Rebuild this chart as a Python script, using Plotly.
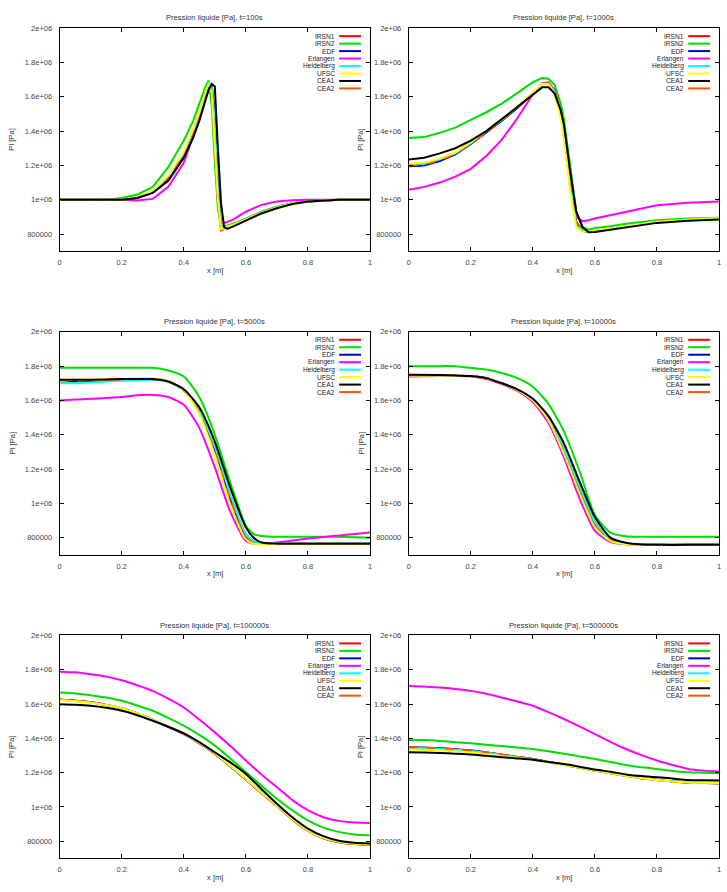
import plotly.graph_objects as go

# ---------------- data ----------------
names = ["IRSN1", "IRSN2", "EDF", "Erlangen", "Heidelberg", "UFSC", "CEA1", "CEA2"]
colors = ["#ff0000", "#00dd00", "#0000cc", "#ff00ff", "#00ffff", "#ffff00", "#000000", "#ff5500"]
titles = ["Pression liquide [Pa], t=100s", "Pression liquide [Pa], t=1000s",
          "Pression liquide [Pa], t=5000s", "Pression liquide [Pa], t=10000s",
          "Pression liquide [Pa], t=100000s", "Pression liquide [Pa], t=500000s"]
y_tickvals = [800000, 1000000, 1200000, 1400000, 1600000, 1800000, 2000000]
y_ticktext = ["800000", "1e+06", "1.2e+06", "1.4e+06", "1.6e+06", "1.8e+06", "2e+06"]
x_tickvals = [0, 0.2, 0.4, 0.6, 0.8, 1]
x_ticktext = ["0", "0.2", "0.4", "0.6", "0.8", "1"]

# t = 100 s  (values in 1e6 Pa)
x_t100 = [0, 0.1, 0.15, 0.2, 0.25, 0.3, 0.35, 0.4, 0.43, 0.45, 0.47, 0.48, 0.49, 0.5, 0.51, 0.52, 0.53, 0.54, 0.56, 0.6, 0.65, 0.7, 0.75, 0.8, 0.9, 1.0]
t100 = {
    "IRSN1":      [1.0, 1.0, 1.0, 1.0, 1.012, 1.045, 1.13, 1.27, 1.40, 1.50, 1.62, 1.675, 1.63, 1.32, 1.0, 0.825, 0.835, 0.845, 0.855, 0.885, 0.925, 0.955, 0.98, 0.99, 1.0, 1.0],
    "IRSN2":      [1.0, 1.0, 1.0, 1.01, 1.03, 1.075, 1.19, 1.345, 1.46, 1.56, 1.66, 1.695, 1.55, 1.22, 0.95, 0.84, 0.845, 0.85, 0.86, 0.89, 0.93, 0.96, 0.98, 0.99, 1.0, 1.0],
    "EDF":        [1.0, 1.0, 1.0, 1.0, 1.01, 1.045, 1.125, 1.265, 1.39, 1.49, 1.62, 1.675, 1.67, 1.5, 1.1, 0.85, 0.84, 0.845, 0.855, 0.885, 0.925, 0.955, 0.98, 0.99, 1.0, 1.0],
    "Erlangen":   [1.0, 1.0, 1.0, 1.0, 0.995, 1.005, 1.075, 1.215, 1.37, 1.48, 1.62, 1.68, 1.65, 1.35, 1.0, 0.86, 0.865, 0.87, 0.885, 0.93, 0.97, 0.99, 0.997, 1.0, 1.0, 1.0],
    "Heidelberg": [1.0, 1.0, 1.0, 1.0, 1.012, 1.048, 1.13, 1.27, 1.40, 1.50, 1.625, 1.68, 1.66, 1.45, 1.05, 0.845, 0.84, 0.845, 0.855, 0.885, 0.925, 0.955, 0.98, 0.99, 1.0, 1.0],
    "UFSC":       [1.0, 1.0, 1.0, 1.0, 1.015, 1.05, 1.14, 1.28, 1.41, 1.51, 1.63, 1.68, 1.62, 1.3, 1.0, 0.83, 0.835, 0.845, 0.855, 0.885, 0.925, 0.955, 0.98, 0.99, 1.0, 1.0],
    "CEA1":       [1.0, 1.0, 1.0, 1.0, 1.01, 1.04, 1.11, 1.245, 1.36, 1.46, 1.58, 1.64, 1.675, 1.66, 1.3, 0.98, 0.84, 0.83, 0.845, 0.88, 0.92, 0.95, 0.975, 0.99, 1.0, 1.0],
    "CEA2":       [1.0, 1.0, 1.0, 1.0, 1.012, 1.045, 1.13, 1.27, 1.40, 1.50, 1.62, 1.675, 1.63, 1.3, 0.98, 0.82, 0.83, 0.845, 0.855, 0.885, 0.925, 0.955, 0.98, 0.99, 1.0, 1.0],
}

# t = 1000 s
x_t1000 = [0, 0.05, 0.1, 0.15, 0.2, 0.25, 0.3, 0.35, 0.4, 0.43, 0.45, 0.47, 0.49, 0.5, 0.52, 0.54, 0.56, 0.58, 0.6, 0.65, 0.7, 0.8, 0.9, 1.0]
t1000 = {
    "IRSN1":      [1.20, 1.205, 1.23, 1.268, 1.328, 1.392, 1.462, 1.537, 1.62, 1.675, 1.68, 1.635, 1.49, 1.39, 1.08, 0.86, 0.818, 0.812, 0.815, 0.83, 0.846, 0.87, 0.883, 0.89],
    "IRSN2":      [1.36, 1.365, 1.39, 1.42, 1.465, 1.51, 1.56, 1.62, 1.685, 1.71, 1.705, 1.67, 1.56, 1.47, 1.2, 0.93, 0.84, 0.825, 0.835, 0.845, 0.86, 0.88, 0.89, 0.895],
    "EDF":        [1.195, 1.20, 1.225, 1.265, 1.325, 1.39, 1.46, 1.535, 1.62, 1.675, 1.68, 1.635, 1.50, 1.40, 1.10, 0.87, 0.82, 0.812, 0.815, 0.83, 0.845, 0.87, 0.882, 0.89],
    "Erlangen":   [1.058, 1.075, 1.10, 1.135, 1.18, 1.255, 1.35, 1.475, 1.615, 1.68, 1.685, 1.64, 1.50, 1.40, 1.12, 0.90, 0.875, 0.88, 0.89, 0.91, 0.93, 0.968, 0.982, 0.99],
    "Heidelberg": [1.205, 1.21, 1.235, 1.27, 1.33, 1.395, 1.465, 1.54, 1.62, 1.675, 1.68, 1.63, 1.49, 1.39, 1.09, 0.86, 0.818, 0.815, 0.818, 0.832, 0.848, 0.872, 0.885, 0.895],
    "UFSC":       [1.21, 1.215, 1.24, 1.275, 1.335, 1.40, 1.47, 1.545, 1.625, 1.675, 1.675, 1.62, 1.47, 1.36, 1.05, 0.84, 0.815, 0.815, 0.82, 0.832, 0.848, 0.872, 0.885, 0.892],
    "CEA1":       [1.235, 1.245, 1.27, 1.30, 1.345, 1.40, 1.47, 1.54, 1.615, 1.655, 1.655, 1.62, 1.52, 1.44, 1.17, 0.93, 0.84, 0.81, 0.812, 0.825, 0.84, 0.865, 0.878, 0.885],
    "CEA2":       [1.20, 1.205, 1.23, 1.268, 1.328, 1.392, 1.462, 1.537, 1.62, 1.675, 1.68, 1.635, 1.49, 1.39, 1.08, 0.86, 0.818, 0.812, 0.815, 0.83, 0.846, 0.87, 0.883, 0.89],
}

# t = 5000 s
x_t5000 = [0, 0.05, 0.1, 0.2, 0.25, 0.3, 0.35, 0.4, 0.45, 0.5, 0.55, 0.6, 0.625, 0.65, 0.7, 0.8, 0.9, 1.0]
t5000 = {
    "IRSN1":      [1.715, 1.715, 1.718, 1.722, 1.725, 1.725, 1.712, 1.66, 1.53, 1.30, 1.02, 0.80, 0.77, 0.765, 0.765, 0.765, 0.765, 0.765],
    "IRSN2":      [1.79, 1.79, 1.79, 1.79, 1.79, 1.79, 1.775, 1.74, 1.62, 1.40, 1.12, 0.87, 0.82, 0.81, 0.805, 0.805, 0.805, 0.80],
    "EDF":        [1.71, 1.71, 1.71, 1.72, 1.72, 1.722, 1.71, 1.66, 1.54, 1.32, 1.04, 0.82, 0.78, 0.766, 0.765, 0.765, 0.765, 0.765],
    "Erlangen":   [1.60, 1.605, 1.61, 1.62, 1.63, 1.632, 1.62, 1.575, 1.44, 1.21, 0.95, 0.78, 0.765, 0.765, 0.772, 0.795, 0.812, 0.83],
    "Heidelberg": [1.70, 1.70, 1.705, 1.715, 1.718, 1.72, 1.708, 1.66, 1.54, 1.33, 1.05, 0.82, 0.78, 0.766, 0.765, 0.765, 0.765, 0.765],
    "UFSC":       [1.715, 1.72, 1.72, 1.725, 1.73, 1.73, 1.715, 1.66, 1.52, 1.28, 0.99, 0.79, 0.765, 0.762, 0.762, 0.762, 0.762, 0.762],
    "CEA1":       [1.72, 1.72, 1.72, 1.725, 1.725, 1.725, 1.71, 1.665, 1.56, 1.36, 1.09, 0.86, 0.80, 0.772, 0.765, 0.765, 0.765, 0.765],
    "CEA2":       [1.715, 1.715, 1.718, 1.722, 1.725, 1.725, 1.712, 1.66, 1.53, 1.30, 1.02, 0.80, 0.77, 0.765, 0.765, 0.765, 0.765, 0.765],
}

# t = 10000 s
x_t10000 = [0, 0.1, 0.15, 0.2, 0.25, 0.3, 0.35, 0.4, 0.45, 0.5, 0.55, 0.6, 0.65, 0.7, 0.75, 0.8, 0.9, 1.0]
t10000 = {
    "IRSN1":      [1.745, 1.745, 1.744, 1.742, 1.73, 1.70, 1.66, 1.60, 1.49, 1.30, 1.07, 0.87, 0.785, 0.763, 0.758, 0.758, 0.758, 0.758],
    "IRSN2":      [1.80, 1.80, 1.80, 1.79, 1.78, 1.76, 1.73, 1.68, 1.58, 1.42, 1.19, 0.93, 0.83, 0.808, 0.805, 0.805, 0.805, 0.805],
    "EDF":        [1.745, 1.745, 1.744, 1.742, 1.73, 1.70, 1.66, 1.605, 1.50, 1.32, 1.10, 0.89, 0.79, 0.765, 0.76, 0.758, 0.758, 0.758],
    "Erlangen":   [1.74, 1.742, 1.742, 1.74, 1.725, 1.695, 1.655, 1.59, 1.47, 1.27, 1.03, 0.84, 0.775, 0.762, 0.76, 0.76, 0.76, 0.76],
    "Heidelberg": [1.745, 1.745, 1.744, 1.742, 1.73, 1.70, 1.66, 1.605, 1.50, 1.32, 1.10, 0.89, 0.79, 0.765, 0.76, 0.758, 0.758, 0.758],
    "UFSC":       [1.745, 1.745, 1.744, 1.742, 1.73, 1.70, 1.66, 1.60, 1.485, 1.29, 1.06, 0.86, 0.78, 0.762, 0.758, 0.758, 0.758, 0.758],
    "CEA1":       [1.75, 1.748, 1.745, 1.742, 1.73, 1.70, 1.665, 1.61, 1.51, 1.35, 1.13, 0.92, 0.80, 0.77, 0.76, 0.758, 0.758, 0.758],
    "CEA2":       [1.745, 1.745, 1.744, 1.742, 1.73, 1.70, 1.66, 1.60, 1.49, 1.30, 1.07, 0.87, 0.785, 0.763, 0.758, 0.758, 0.758, 0.758],
}

# t = 100000 s
x_t100000 = [0, 0.05, 0.1, 0.15, 0.2, 0.25, 0.3, 0.35, 0.4, 0.45, 0.5, 0.55, 0.6, 0.65, 0.7, 0.75, 0.8, 0.85, 0.9, 0.95, 1.0]
t100000 = {
    "IRSN1":      [1.625, 1.62, 1.61, 1.595, 1.576, 1.545, 1.508, 1.468, 1.426, 1.372, 1.31, 1.237, 1.161, 1.082, 1.006, 0.928, 0.862, 0.818, 0.795, 0.784, 0.78],
    "IRSN2":      [1.667, 1.662, 1.652, 1.638, 1.619, 1.592, 1.561, 1.52, 1.474, 1.42, 1.358, 1.283, 1.203, 1.125, 1.048, 0.98, 0.922, 0.88, 0.855, 0.84, 0.835],
    "EDF":        [1.625, 1.62, 1.61, 1.595, 1.576, 1.545, 1.508, 1.468, 1.427, 1.373, 1.311, 1.238, 1.162, 1.083, 1.007, 0.929, 0.863, 0.819, 0.796, 0.785, 0.781],
    "Erlangen":   [1.789, 1.785, 1.774, 1.76, 1.739, 1.71, 1.677, 1.632, 1.58, 1.51, 1.435, 1.355, 1.271, 1.19, 1.116, 1.04, 0.981, 0.94, 0.919, 0.91, 0.907],
    "Heidelberg": [1.623, 1.618, 1.609, 1.594, 1.576, 1.545, 1.508, 1.469, 1.428, 1.374, 1.312, 1.239, 1.163, 1.084, 1.008, 0.93, 0.864, 0.82, 0.797, 0.785, 0.781],
    "UFSC":       [1.622, 1.617, 1.608, 1.594, 1.576, 1.545, 1.508, 1.47, 1.429, 1.375, 1.313, 1.24, 1.164, 1.085, 1.009, 0.93, 0.864, 0.82, 0.797, 0.785, 0.781],
    "CEA1":       [1.599, 1.596, 1.59, 1.578, 1.561, 1.535, 1.503, 1.468, 1.429, 1.378, 1.319, 1.26, 1.193, 1.105, 1.019, 0.94, 0.874, 0.83, 0.803, 0.792, 0.787],
    "CEA2":       [1.625, 1.62, 1.61, 1.595, 1.576, 1.545, 1.508, 1.467, 1.425, 1.371, 1.309, 1.236, 1.16, 1.081, 1.005, 0.927, 0.861, 0.817, 0.794, 0.783, 0.779],
}

# t = 500000 s
x_t500000 = [0, 0.05, 0.1, 0.15, 0.2, 0.25, 0.3, 0.35, 0.4, 0.45, 0.5, 0.55, 0.6, 0.65, 0.7, 0.75, 0.8, 0.85, 0.9, 0.95, 1.0]
t500000 = {
    "IRSN1":      [1.348, 1.346, 1.342, 1.336, 1.329, 1.318, 1.305, 1.292, 1.28, 1.263, 1.246, 1.23, 1.213, 1.197, 1.182, 1.168, 1.158, 1.148, 1.142, 1.14, 1.139],
    "IRSN2":      [1.391, 1.39, 1.385, 1.378, 1.371, 1.363, 1.355, 1.347, 1.338, 1.325, 1.31, 1.295, 1.28, 1.262, 1.245, 1.232, 1.222, 1.21, 1.203, 1.2, 1.197],
    "EDF":        [1.348, 1.346, 1.342, 1.336, 1.329, 1.318, 1.305, 1.292, 1.28, 1.263, 1.246, 1.23, 1.213, 1.197, 1.182, 1.168, 1.158, 1.148, 1.142, 1.14, 1.139],
    "Erlangen":   [1.706, 1.703, 1.696, 1.688, 1.677, 1.66, 1.638, 1.615, 1.59, 1.553, 1.513, 1.47, 1.425, 1.38, 1.338, 1.302, 1.271, 1.245, 1.222, 1.212, 1.207],
    "Heidelberg": [1.345, 1.343, 1.34, 1.334, 1.327, 1.317, 1.304, 1.291, 1.279, 1.262, 1.246, 1.23, 1.213, 1.197, 1.182, 1.168, 1.158, 1.149, 1.143, 1.141, 1.14],
    "UFSC":       [1.335, 1.334, 1.331, 1.325, 1.318, 1.308, 1.297, 1.287, 1.276, 1.26, 1.245, 1.23, 1.213, 1.197, 1.182, 1.169, 1.158, 1.149, 1.143, 1.141, 1.14],
    "CEA1":       [1.319, 1.318, 1.315, 1.311, 1.306, 1.298, 1.29, 1.283, 1.275, 1.262, 1.25, 1.235, 1.218, 1.205, 1.19, 1.18, 1.174, 1.166, 1.158, 1.156, 1.155],
    "CEA2":       [1.348, 1.346, 1.342, 1.336, 1.329, 1.318, 1.305, 1.292, 1.28, 1.263, 1.246, 1.23, 1.213, 1.197, 1.182, 1.168, 1.158, 1.148, 1.142, 1.14, 1.139],
}

panels = [(x_t100, t100), (x_t1000, t1000), (x_t5000, t5000),
          (x_t10000, t10000), (x_t100000, t100000), (x_t500000, t500000)]

# ---------------- layout geometry (pixels) ----------------
W, H = 727, 892
col_px = [(58, 370), (409, 721)]
row_px = [(24.3, 248.3), (329.3, 553.3), (634.3, 858.3)]
draw_order = ["IRSN1", "IRSN2", "EDF", "Erlangen", "Heidelberg", "CEA2", "UFSC", "CEA1"]
FONT = "Liberation Sans, Arial, sans-serif"


def px(x):
    return x / W


def py(y):
    return 1 - y / H


fig = go.Figure()
layout = dict(width=W, height=H, margin=dict(l=0, r=0, t=0, b=0),
              paper_bgcolor="white", plot_bgcolor="white", showlegend=False,
              font=dict(family=FONT, size=8, color="#333333"))
annotations = []
shapes = []

for i, (xs, data) in enumerate(panels):
    r, c = divmod(i, 2)
    x0, x1 = col_px[c]
    y0, y1 = row_px[r]
    ax = "" if i == 0 else str(i + 1)
    xa, ya = "x" + ax, "y" + ax
    axis_common = dict(showgrid=False, zeroline=False, showline=True, linecolor="black",
                       linewidth=1, mirror="ticks", ticks="inside", ticklen=4,
                       tickcolor="black", tickfont=dict(size=7.5, color="#444444", family=FONT))
    layout["xaxis" + ax] = dict(domain=[px(x0), px(x1)], range=[0, 1], anchor=ya,
                                tickvals=x_tickvals, ticktext=x_ticktext,
                                ticklabelstandoff=4, **axis_common)
    layout["yaxis" + ax] = dict(domain=[py(y1), py(y0)], range=[700000, 2000000], anchor=xa,
                                tickvals=y_tickvals, ticktext=y_ticktext,
                                ticklabelstandoff=5, **axis_common)
    smooth = i >= 2
    for name in draw_order:
        k = names.index(name)
        line = dict(color=colors[k], width=2, dash="dash" if name == "CEA2" else "solid")
        if smooth:
            line.update(shape="spline", smoothing=0.6)
        fig.add_trace(go.Scatter(
            x=xs, y=[v * 1e6 for v in data[name]], mode="lines", name=name,
            line=line, xaxis=xa, yaxis=ya, showlegend=False))
    # title
    annotations.append(dict(text=titles[i], x=px((x0 + x1) / 2), y=py(y0 - 10.5),
                            xref="paper", yref="paper", showarrow=False,
                            xanchor="center", yanchor="middle",
                            font=dict(size=7.6, color="#333333", family=FONT)))
    # x label
    annotations.append(dict(text="x [m]", x=px((x0 + x1) / 2), y=py(y1 + 19),
                            xref="paper", yref="paper", showarrow=False,
                            xanchor="center", yanchor="middle",
                            font=dict(size=7.6, color="#333333", family=FONT)))
    # y label
    annotations.append(dict(text="Pl [Pa]", x=px(x0 - 48), y=py((y0 + y1) / 2),
                            xref="paper", yref="paper", showarrow=False, textangle=-90,
                            xanchor="center", yanchor="middle",
                            font=dict(size=7.6, color="#333333", family=FONT)))
    # legend (gnuplot-style: right-justified text, sample to the right)
    for k, name in enumerate(names):
        ly = y0 + 8 + k * 7.5
        annotations.append(dict(text=name, x=px(x1 - 34), y=py(ly),
                                xref="paper", yref="paper", showarrow=False,
                                xanchor="right", yanchor="middle", borderpad=0,
                                font=dict(size=6.6, color="#222222", family=FONT)))
        shapes.append(dict(type="line", xref="paper", yref="paper",
                           x0=px(x1 - 31), x1=px(x1 - 9), y0=py(ly), y1=py(ly),
                           line=dict(color=colors[k], width=2)))

layout["annotations"] = annotations
layout["shapes"] = shapes
fig.update_layout(**layout)
fig.write_html("out.html")
